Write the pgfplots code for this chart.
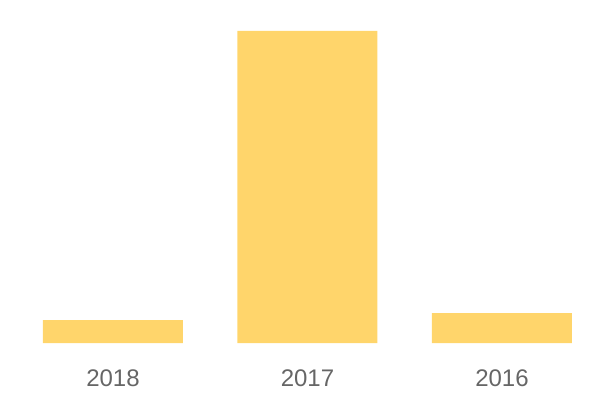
\documentclass[border=0pt]{standalone}
\usepackage{fontspec}
\setmainfont{Liberation Sans}
\usepackage{pgfplots}
\pgfplotsset{compat=1.18}
\definecolor{barc}{HTML}{FFD56B}
\definecolor{lab}{HTML}{666666}
\begin{document}
\begin{tikzpicture}
\path[use as bounding box] (0,0) rectangle (450pt,300pt);
\begin{axis}[
  at={(11.81pt,42.75pt)}, anchor=south west,
  scale only axis, width=437.6pt, height=234pt,
  xmin=-0.5, xmax=2.5, ymin=0, ymax=312,
  axis line style={draw=none},
  major tick length=0pt,
  ytick=\empty,
  xtick={0,1,2},
  xticklabels={2018,2017,2016},
  /pgf/number format/assume math mode=true,
  xticklabel style={anchor=base, yshift=-32.5pt, inner sep=0pt, text=lab, font=\fontsize{18}{21}\selectfont},
  clip=false,
]
\addplot[ybar, bar width=105pt, fill=barc, draw=none, bar shift=0pt] coordinates {(0,23) (1,312) (2,30)};
\end{axis}
\end{tikzpicture}
\end{document}
